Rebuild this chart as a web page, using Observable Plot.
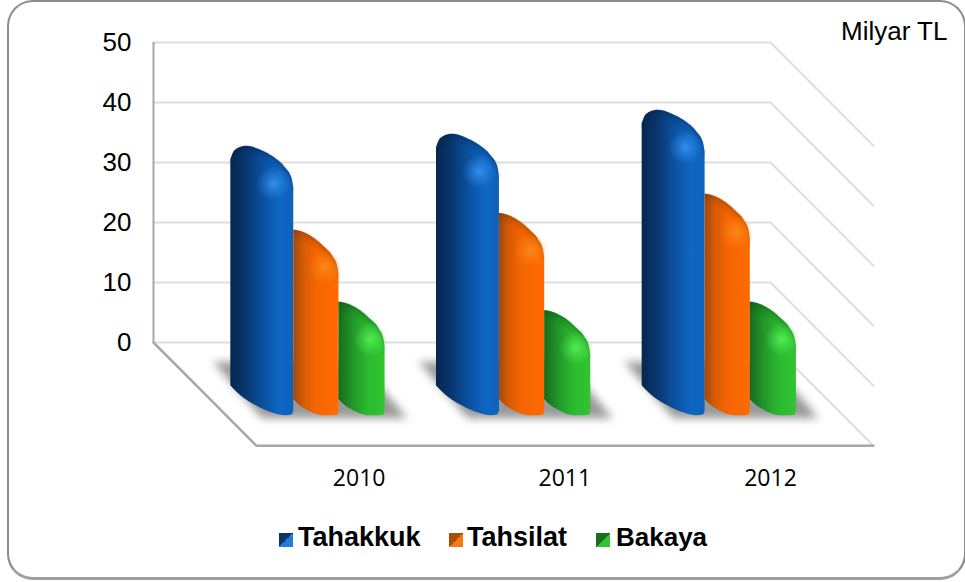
<!DOCTYPE html>
<html>
<head>
<meta charset="utf-8">
<script src="https://cdn.jsdelivr.net/npm/d3@7"></script>
<script src="https://cdn.jsdelivr.net/npm/@observablehq/plot@0.6"></script>
<style>
  html, body { margin: 0; padding: 0; background: #fff; }
  #root { position: relative; width: 965px; height: 582px; overflow: hidden; font-family: "Liberation Sans", Arial, sans-serif; color: #000; }
  #frame { position: absolute; left: 7px; top: 0; width: 955px; height: 575px; border: 2px solid #8c8c8c; border-bottom: 3px solid #a0a0a0; border-radius: 26px; box-sizing: content-box; }
  #chart { position: absolute; left: 0; top: 0; }
  #unit { position: absolute; left: 841px; top: 16px; font-size: 26px; line-height: 30px; white-space: nowrap; }
  .lg { position: absolute; top: 522px; font-size: 27px; line-height: 30px; font-weight: bold; white-space: nowrap; }
  .sw { position: absolute; top: 533px; width: 14px; height: 14px; }
</style>
</head>
<body>
<div id="root">
  <div id="frame"></div>
  <div id="chart"></div>
  <div id="unit">Milyar TL</div>
  <div class="sw" style="left:279px;background:linear-gradient(135deg,#0b3566 50%,#1f7fd6 50%)"></div>
  <div class="lg" style="left:298px">Tahakkuk</div>
  <div class="sw" style="left:449px;background:linear-gradient(135deg,#a84c0a 50%,#f47a14 50%)"></div>
  <div class="lg" style="left:467px">Tahsilat</div>
  <div class="sw" style="left:596px;background:linear-gradient(135deg,#17701f 50%,#35c238 50%)"></div>
  <div class="lg" style="left:616px;font-size:26px">Bakaya</div>
</div>
<script>
// ---- values
const years = [2010, 2011, 2012];
const tahakkuk = [32.7, 34.7, 38.7];
const tahsilat = [18.7, 21.5, 24.7];
const bakaya = [6.7, 5.3, 6.7];
const yTicks = [0, 10, 20, 30, 40, 50];

// ---- drawing constants, in scale units
const depthX = 0.5, depthY = -17.2;      // how far the floor runs forward
const barBase = -12.2;                   // front foot of every bar
const barStart = 0.376;
const widths = [0.306, 0.22, 0.224];
const offsets = [0, 0.306, 0.526];
const sampleT = [0, 0.07, 0.25, 0.47, 0.68, 0.87, 0.97, 1];
const capFront = [2.3, 0.7, 0, 0.6, 1.8, 3.6, 5.3, 7.0];
const capBack = [0, 0.05, 0.45, 1.4, 2.8, 4.4, 6.0, 7.5];
const footFront = [5, 4.2, 2.6, 1.3, 0.4, 0, 0.1, 0.7];
const footBack = [2.7, 2.1, 1.1, 0.3, 0, 0, 0.1, 0.7];
const shadowX = [0.292, 0.53, 1.006, 1.235];
const shadowTop = [-3.3, -3.3, -3.3, -12.7];
const shadowBottom = [-3.3, -12.7, -12.7, -12.7];

const seriesList = [
  {id: "blue", values: tahakkuk, cap: capFront, foot: footFront},
  {id: "orange", values: tahsilat, cap: capBack, foot: footBack},
  {id: "green", values: bakaya, cap: capBack, foot: footBack}
];

function outline(s, k, inset) {
  return s.values.flatMap((v, i) => sampleT.map((t, j) => ({
    key: i,
    x: i + barStart + offsets[k] + t * widths[k],
    top: v - s.cap[j],
    under: v - s.cap[j] - inset,
    foot: barBase + s.foot[j]
  })));
}
const gridRows = yTicks.flatMap(v => [
  {v, x: 0, y: v}, {v, x: 3, y: v}, {v, x: 3 + depthX, y: v + depthY}
]);
const floorRows = [{x: 0, y: 0}, {x: depthX, y: depthY}, {x: 3 + depthX, y: depthY}];
const shadowRows = years.flatMap((_, i) => shadowX.map((x, j) => ({
  key: i, x: i + x, y1: shadowBottom[j], y2: shadowTop[j]
})));
const glowRows = seriesList.map((s, k) => s.values.map((v, i) => ({
  x: i + barStart + offsets[k] + 0.68 * widths[k], y: v - 6.2
})));

const stops = {
  blue: [["0%", "#062750"], ["22%", "#08356c"], ["50%", "#0b4f9c"], ["78%", "#0e66c4"], ["100%", "#0f62bb"]],
  orange: [["0%", "#9c4a12"], ["22%", "#d85a04"], ["50%", "#f46502"], ["100%", "#ff6b00"]],
  green: [["0%", "#186a1c"], ["30%", "#21962a"], ["65%", "#2cbb2f"], ["100%", "#30c432"]]
};
const glows = {blue: "#3a96f5", orange: "#fb8c1e", green: "#58f458"};

function defs() {
  const d = d3.create("svg:defs");
  for (const id of Object.keys(stops)) {
    const g = d.append("linearGradient").attr("id", id);
    for (const [o, c] of stops[id]) g.append("stop").attr("offset", o).attr("stop-color", c);
    const r = d.append("radialGradient").attr("id", id + "Glow");
    r.append("stop").attr("offset", "0%").attr("stop-color", glows[id]).attr("stop-opacity", 0.85);
    r.append("stop").attr("offset", "45%").attr("stop-color", glows[id]).attr("stop-opacity", 0.4);
    r.append("stop").attr("offset", "100%").attr("stop-color", glows[id]).attr("stop-opacity", 0);
  }
  return d.node();
}
const blurred = px => (index, scales, values, dims, context, next) => {
  const g = next(index, scales, values, dims, context);
  g.style.filter = `blur(${px}px)`;
  return g;
};

const rimColors = {blue: "#04204a", orange: "#7a3000", green: "#0c5012"};
const barMarks = seriesList.flatMap((s, k) => [
  Plot.areaY(outline(s, k, 0), {x: "x", y1: "foot", y2: "top", z: "key", fill: `url(#${s.id})`, curve: "monotone-x", render: blurred(0.6)}),
  Plot.areaY(outline(s, k, 1.4), {x: "x", y1: "under", y2: "top", z: "key", fill: rimColors[s.id], fillOpacity: 0.14, curve: "monotone-x", render: blurred(1.2)}),
  Plot.areaY(outline(s, k, 0.6), {x: "x", y1: "under", y2: "top", z: "key", fill: rimColors[s.id], fillOpacity: 0.18, curve: "monotone-x", render: blurred(0.6)}),
  Plot.dot(glowRows[k], {x: "x", y: "y", r: 17, fill: `url(#${s.id}Glow)`, stroke: "none"})
]);

const chart = Plot.plot({
  width: 965,
  height: 582,
  marginLeft: 153,
  marginRight: 195,
  marginTop: 42,
  marginBottom: 240,
  style: {background: "transparent", overflow: "visible"},
  x: {domain: [0, 3]},
  y: {domain: [0, 50]},
  marks: [
    defs,
    Plot.line(gridRows, {x: "x", y: "y", z: "v", stroke: "#dedede", strokeWidth: 2}),
    Plot.ruleX([0], {y1: 0, y2: 50, stroke: "#a8a8a8", strokeWidth: 2}),
    Plot.line(floorRows, {x: "x", y: "y", stroke: "#a8a8a8", strokeWidth: 2.5}),
    Plot.areaY(shadowRows, {x: "x", y1: "y1", y2: "y2", z: "key", fill: "#777", fillOpacity: 0.75, render: blurred(4.5)}),
    ...barMarks,
    Plot.axisY({ticks: yTicks, tickSize: 0, tickPadding: 22, fontSize: 26, label: null, fontFamily: "Liberation Sans", fill: "#000"}),
    Plot.axisX({ticks: [1, 2, 3], tickFormat: d => String(years[d - 1]), tickSize: 0, tickPadding: 127, fontSize: 23, label: null, fontFamily: "Open Sans", fill: "#000"})
  ]
});
document.getElementById("chart").appendChild(chart);
</script>
</body>
</html>
